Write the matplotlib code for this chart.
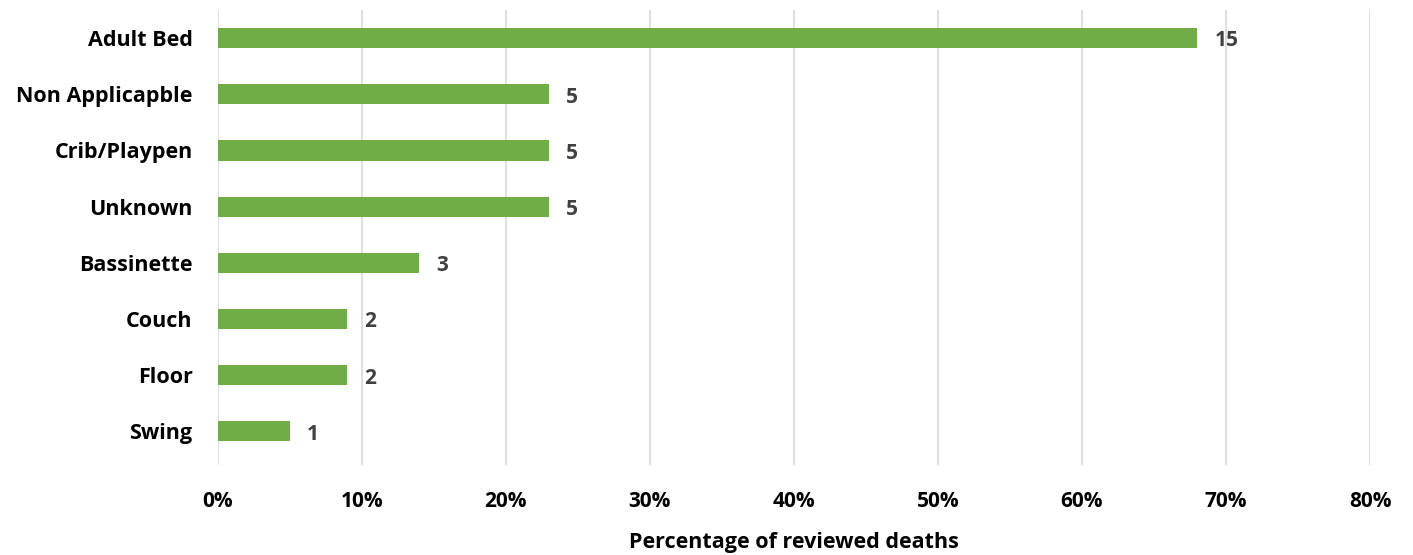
import matplotlib.pyplot as plt
from matplotlib.ticker import PercentFormatter

# Data
categories = ['Adult Bed', 'Non Applicapble', 'Crib/Playpen', 'Unknown',
              'Bassinette', 'Couch', 'Floor', 'Swing']
percentages = [68, 23, 23, 23, 14, 9, 9, 5]
counts = [15, 5, 5, 5, 3, 2, 2, 1]

plt.rcParams['font.family'] = ['Open Sans', 'DejaVu Sans']

fig = plt.figure(figsize=(14.13, 5.55), dpi=100)
ax = fig.add_axes([0.154, 0.162, 0.8156, 0.82])

y = list(range(len(categories)))[::-1]
bars = ax.barh(y, percentages, height=0.36, color='#70AD47', zorder=3)

for yi, p, c in zip(y, percentages, counts):
    ax.text(p + 1.2, yi - 0.05, str(c), va='center', ha='left',
            fontsize=15, fontweight='bold', color='#404040')

ax.set_yticks(y)
ax.set_yticklabels(categories, fontsize=15.5, fontweight='bold', color='black')
ax.set_xlim(0, 80)
ax.set_ylim(-0.6, 7.5)
ax.set_xticks(range(0, 81, 10))
ax.xaxis.set_major_formatter(PercentFormatter(decimals=0))
for lbl in ax.get_xticklabels():
    lbl.set_fontsize(15)
    lbl.set_fontweight('bold')

ax.tick_params(axis='both', length=0)
ax.tick_params(axis='x', pad=19)
ax.tick_params(axis='y', pad=18)
ax.grid(axis='x', color='#D9D9D9', linewidth=1.2, zorder=0)
for spine in ax.spines.values():
    spine.set_visible(False)

ax.set_xlabel('Percentage of reviewed deaths', fontsize=15.5, fontweight='bold',
              labelpad=14)

fig.savefig('out.png', dpi=100, facecolor='white')
